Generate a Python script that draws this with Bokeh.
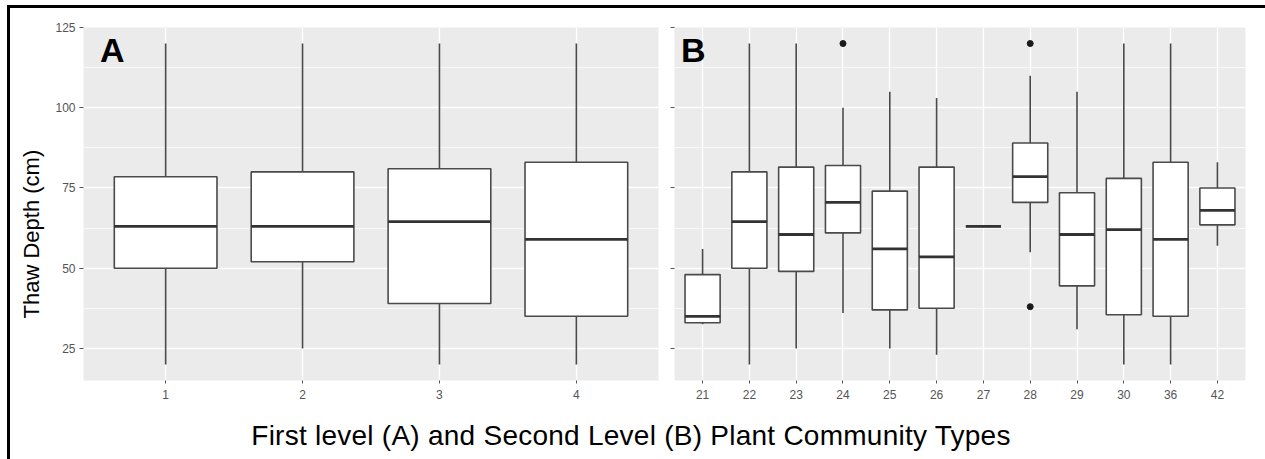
from bokeh.plotting import figure
from bokeh.models import (FactorRange, Range1d, FixedTicker, Label, Div, Title,
                          CustomJSTickFormatter, ColumnDataSource)
from bokeh.layouts import row, column
from bokeh.embed import file_html
from bokeh.resources import INLINE

# First-level plant community types (panel A): whisker ends, quartiles, median
level1_types = ["1", "2", "3", "4"]
level1_low = [20, 25, 20, 20]
level1_q1 = [50, 52, 39, 35]
level1_median = [63, 63, 64.5, 59]
level1_q3 = [78.5, 80, 81, 83]
level1_high = [120, 120, 120, 120]

# Second-level plant community types (panel B)
level2_types = ["21", "22", "23", "24", "25", "26", "27", "28", "29", "30", "36", "42"]
level2_low = [32.5, 20, 25, 36, 25, 23, 63, 55, 31, 20, 20, 57]
level2_q1 = [33, 50, 49, 61, 37, 37.5, 63, 70.5, 44.5, 35.5, 35, 63.5]
level2_median = [35, 64.5, 60.5, 70.5, 56, 53.5, 63, 78.5, 60.5, 62, 59, 68]
level2_q3 = [48, 80, 81.5, 82, 74, 81.5, 63, 89, 73.5, 78, 83, 75]
level2_high = [56, 120, 120, 100, 105, 103, 63, 110, 105, 120, 120, 83]
level2_outlier_type = ["24", "28", "28"]
level2_outlier_depth = [120, 120, 38]

y_breaks = [25, 50, 75, 100, 125]
y_minor_breaks = [37.5, 62.5, 87.5, 112.5]

FONT = "Liberation Sans"
PANEL_BG = "#EBEBEB"
LINE = "#4a4a4a"
MEDIAN = "#333333"
TICK_TEXT = "#555555"
BOX_WIDTH = 0.75

depth_range = Range1d(15, 125)


def box_panel(types, low, q1, med, q3, high, width, border_left, border_right,
              tag, tag_x, with_labels):
    x_range = FactorRange(factors=types, range_padding=0.1,
                          range_padding_units="absolute")
    p = figure(x_range=x_range, y_range=depth_range, width=width, height=404,
               output_backend="svg", toolbar_location=None,
               min_border_left=border_left, min_border_right=border_right,
               min_border_top=19, min_border_bottom=32)
    p.background_fill_color = PANEL_BG
    p.border_fill_color = "white"
    p.outline_line_color = None

    src = ColumnDataSource(dict(
        t=types, low=low, q1=q1, med=med, q3=q3, high=high,
        left=[(t, -BOX_WIDTH / 2) for t in types],
        right=[(t, BOX_WIDTH / 2) for t in types],
    ))
    # whiskers
    p.segment(x0="t", y0="q3", x1="t", y1="high", source=src,
              line_color=LINE, line_width=1.6)
    p.segment(x0="t", y0="low", x1="t", y1="q1", source=src,
              line_color=LINE, line_width=1.6)
    # boxes
    p.vbar(x="t", bottom="q1", top="q3", width=BOX_WIDTH, source=src,
           fill_color="white", line_color=LINE, line_width=1.6)
    # medians
    p.segment(x0="left", y0="med", x1="right", y1="med", source=src,
              line_color=MEDIAN, line_width=2.8)

    # grid
    p.ygrid.ticker = FixedTicker(ticks=y_breaks, minor_ticks=y_minor_breaks)
    p.ygrid.grid_line_color = "white"
    p.ygrid.grid_line_width = 1.3
    p.ygrid.minor_grid_line_color = "white"
    p.ygrid.minor_grid_line_width = 0.7
    p.xgrid.grid_line_color = "white"
    p.xgrid.grid_line_width = 1.3

    # axes
    p.yaxis.ticker = FixedTicker(ticks=y_breaks, minor_ticks=[])
    for ax in (p.xaxis[0], p.yaxis[0]):
        ax.axis_line_color = None
        ax.major_tick_line_color = "#555555"
        ax.major_tick_line_width = 1
        ax.major_tick_in = 0
        ax.minor_tick_line_color = None
        ax.major_label_text_font = FONT
        ax.major_label_text_font_size = "12px"
        ax.major_label_text_color = TICK_TEXT
    p.xaxis.major_tick_out = 3
    p.xaxis.major_label_standoff = 6
    p.yaxis.major_tick_out = 4
    p.yaxis.major_label_standoff = 4
    if with_labels:
        # y title, starting a little above the panel's bottom edge
        p.add_layout(Title(text="Thaw Depth (cm)", align="left", offset=62,
                           standoff=14, vertical_align="top", text_font=FONT,
                           text_font_size="22px", text_font_style="normal",
                           text_color="black"), "left")
    else:
        p.yaxis.formatter = CustomJSTickFormatter(code="return ''")
        p.yaxis.major_label_standoff = 0

    p.add_layout(Label(x=tag_x, y=118, text=tag, text_font=FONT,
                       text_font_size="34px", text_font_style="bold",
                       text_color="black", text_align="center",
                       text_baseline="middle"))
    return p


panel_a = box_panel(level1_types, level1_low, level1_q1, level1_median,
                    level1_q3, level1_high, width=656, border_left=73,
                    border_right=8, tag="A", tag_x=0.11, with_labels=True)

panel_b = box_panel(level2_types, level2_low, level2_q1, level2_median,
                    level2_q3, level2_high, width=599, border_left=8,
                    border_right=20, tag="B", tag_x=0.3, with_labels=False)
panel_b.scatter(x=level2_outlier_type, y=level2_outlier_depth, size=6,
                color="#1a1a1a")

x_title = Div(
    text="First level (A) and Second Level (B) Plant Community Types",
    width=1232, height=47,
    styles={"font-family": "'Liberation Sans', Arial, sans-serif",
            "font-size": "28px", "line-height": "28px",
            "letter-spacing": "0.25px",
            "padding-top": "5px", "text-align": "center",
            "color": "black"})

page = column(row(panel_a, panel_b), x_title,
              styles={"margin-top": "5px", "margin-left": "7px",
                      "border-top": "3px solid black",
                      "border-left": "3px solid black"})

open("out.html", "w").write(file_html(page, INLINE))
